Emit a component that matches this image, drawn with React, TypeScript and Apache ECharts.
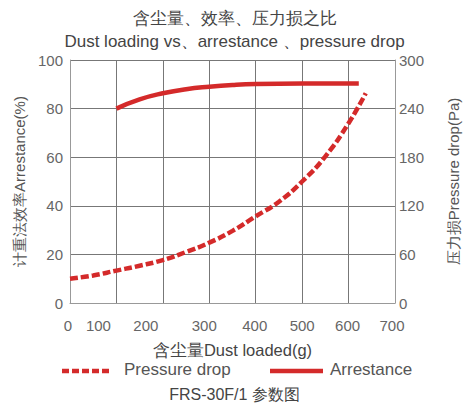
import React, { useEffect, useRef } from "react";
import * as echarts from "echarts";

const titleCn = "含尘量、效率、压力损之比";
const titleEn = "Dust loading vs、arrestance 、pressure drop";
const footer = "FRS-30F/1 参数图";
const xName = "含尘量Dust loaded(g)";
const leftName = "计重法效率Arrestance(%)";
const rightName = "压力损Pressure drop(Pa)";
const legendNames = ["Pressure drop", "Arrestance"];

const pressureX = [0, 50, 100, 150, 200, 250, 300, 350, 400, 450, 500, 550, 600, 637];
const pressureY = [30, 34, 40, 46, 53, 63, 74.5, 89, 107, 125, 150, 181, 222, 259];

const arrestX = [100, 150, 200, 250, 300, 350, 400, 500, 600, 622];
const arrestY = [80, 83.8, 86.3, 88, 89, 89.7, 90.1, 90.3, 90.3, 90.3];

// label horizontal nudges (px) to match the reference's tick label placement
const xLabelShift: Record<string, number> = { "0": -2, "100": -18, "200": -17, "300": -5, "400": -1, "500": 0, "600": -1, "700": -3 };

const RED = "#d42a2a";
const FONT = "Liberation Sans";

export default function App() {
  const ref = useRef<HTMLDivElement>(null);
  useEffect(() => {
    if (!ref.current) return;
    const chart = echarts.init(ref.current, undefined, { renderer: "svg" });
    const rich: Record<string, any> = {};
    Object.keys(xLabelShift).forEach((k) => {
      const s = xLabelShift[k];
      rich["l" + k] = {
        fontFamily: FONT,
        fontSize: 15,
        color: "#666",
        padding: s < 0 ? [0, -2 * s, 0, 0] : [0, 0, 0, 2 * s],
      };
    });
    const legendY = 371;
    chart.setOption({
      animation: false,
      textStyle: { fontFamily: FONT },
      title: [
        {
          text: titleCn + "\n" + titleEn,
          left: "center",
          top: 2,
          textStyle: { fontFamily: FONT, fontSize: 17, fontWeight: "normal", color: "#444", lineHeight: 23 },
        },
        {
          text: footer,
          left: "center",
          top: 386,
          padding: 0,
          textStyle: { fontFamily: FONT, fontSize: 16, lineHeight: 17, fontWeight: "normal", color: "#444" },
        },
      ],
      graphic: [
        {
          type: "line",
          shape: { x1: 62, y1: legendY, x2: 110, y2: legendY },
          style: { stroke: RED, lineWidth: 4.5, lineDash: [7, 3] },
        },
        {
          type: "text",
          left: 124,
          top: legendY - 10,
          style: { text: legendNames[0], fontFamily: FONT, fontSize: 17, fill: "#555" },
        },
        {
          type: "line",
          shape: { x1: 270, y1: legendY, x2: 323, y2: legendY },
          style: { stroke: RED, lineWidth: 4.5 },
        },
        {
          type: "text",
          left: 330,
          top: legendY - 10,
          style: { text: legendNames[1], fontFamily: FONT, fontSize: 17, fill: "#555" },
        },
      ],
      grid: { left: 70, right: 64, top: 60, bottom: 103 },
      xAxis: {
        type: "value",
        min: 0,
        max: 700,
        interval: 100,
        name: xName,
        nameLocation: "middle",
        nameGap: 38,
        nameTextStyle: { fontFamily: FONT, fontSize: 16.5, color: "#444" },
        axisLine: { show: true, lineStyle: { color: "#999", width: 1 } },
        axisTick: { show: false },
        axisLabel: {
          margin: 15,
          formatter: (v: number) => `{l${v}|${v}}`,
          rich,
        },
        splitLine: { show: true, lineStyle: { color: "#777", width: 1 } },
      },
      yAxis: [
        {
          type: "value",
          min: 0,
          max: 100,
          interval: 20,
          name: leftName,
          nameLocation: "middle",
          nameGap: 33,
          nameTextStyle: { fontFamily: FONT, fontSize: 15, color: "#555" },
          axisLine: { show: true, lineStyle: { color: "#999", width: 1 } },
          axisTick: { show: false },
          axisLabel: { margin: 7, fontFamily: FONT, fontSize: 15, color: "#666" },
          splitLine: { show: true, lineStyle: { color: "#777", width: 1 } },
        },
        {
          type: "value",
          min: 0,
          max: 300,
          interval: 60,
          name: rightName,
          nameLocation: "middle",
          nameGap: 51,
          nameRotate: 90,
          nameTextStyle: { fontFamily: FONT, fontSize: 15, color: "#555" },
          axisLine: { show: true, lineStyle: { color: "#999", width: 1 } },
          axisTick: { show: false },
          axisLabel: { margin: 4, fontFamily: FONT, fontSize: 15, color: "#666" },
          splitLine: { show: false },
        },
      ],
      series: [
        {
          name: legendNames[0],
          type: "line",
          yAxisIndex: 1,
          smooth: true,
          symbol: "none",
          lineStyle: { color: RED, width: 4.5, type: [8, 3] },
          itemStyle: { color: RED },
          data: pressureX.map((x, i) => [x, pressureY[i]]),
        },
        {
          name: legendNames[1],
          type: "line",
          yAxisIndex: 0,
          smooth: true,
          symbol: "none",
          lineStyle: { color: RED, width: 4.5 },
          itemStyle: { color: RED },
          data: arrestX.map((x, i) => [x, arrestY[i]]),
        },
      ],
    });
    return () => chart.dispose();
  }, []);
  return <div ref={ref} style={{ width: 469, height: 406, position: "absolute", left: 0, top: 0 }} />;
}
